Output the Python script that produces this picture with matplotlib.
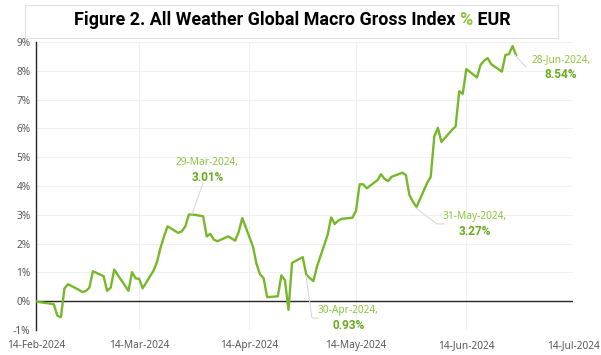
import matplotlib
matplotlib.use('Agg')
import matplotlib.pyplot as plt
import matplotlib.dates as mdates
import matplotlib.patches as mpatches
import pandas as pd

dates = ['2024-02-14', '2024-02-15', '2024-02-16', '2024-02-19', '2024-02-20', '2024-02-21',
         '2024-02-22', '2024-02-23', '2024-02-26', '2024-02-27', '2024-02-28', '2024-02-29',
         '2024-03-01', '2024-03-04', '2024-03-05', '2024-03-06', '2024-03-07', '2024-03-08',
         '2024-03-11', '2024-03-12', '2024-03-13', '2024-03-14', '2024-03-15', '2024-03-18',
         '2024-03-19', '2024-03-20', '2024-03-21', '2024-03-22', '2024-03-25', '2024-03-26',
         '2024-03-27', '2024-03-28', '2024-03-29', '2024-04-01', '2024-04-02', '2024-04-03',
         '2024-04-04', '2024-04-05', '2024-04-08', '2024-04-09', '2024-04-10', '2024-04-11',
         '2024-04-12', '2024-04-15', '2024-04-16', '2024-04-17', '2024-04-18', '2024-04-19',
         '2024-04-22', '2024-04-23', '2024-04-24', '2024-04-25', '2024-04-26', '2024-04-29',
         '2024-04-30', '2024-05-01', '2024-05-02', '2024-05-03', '2024-05-06', '2024-05-07',
         '2024-05-08', '2024-05-09', '2024-05-10', '2024-05-13', '2024-05-14', '2024-05-15',
         '2024-05-16', '2024-05-17', '2024-05-20', '2024-05-21', '2024-05-22', '2024-05-23',
         '2024-05-24', '2024-05-27', '2024-05-28', '2024-05-29', '2024-05-30', '2024-05-31',
         '2024-06-03', '2024-06-04', '2024-06-05', '2024-06-06', '2024-06-07', '2024-06-10',
         '2024-06-11', '2024-06-12', '2024-06-13', '2024-06-14', '2024-06-17', '2024-06-18',
         '2024-06-19', '2024-06-20', '2024-06-21', '2024-06-24', '2024-06-25', '2024-06-26',
         '2024-06-27', '2024-06-28']

values = [0.00, -0.03, -0.05, -0.10, -0.50, -0.56,
          0.44, 0.59, 0.40, 0.32, 0.35, 0.47,
          1.04, 0.87, 0.36, 0.47, 1.10, 0.91,
          0.36, 1.01, 0.79, 0.78, 0.45, 1.05,
          1.35, 1.85, 2.25, 2.60, 2.37, 2.43,
          2.60, 3.01, 3.01, 2.95, 2.25, 2.34,
          2.14, 2.08, 2.25, 2.18, 2.10, 2.40,
          2.89, 1.90, 1.30, 0.93, 0.80, 0.14,
          0.17, 0.90, 0.73, -0.30, 1.33, 1.53,
          0.93, 0.80, 0.70, 1.20, 2.30, 2.91,
          2.68, 2.80, 2.86, 2.90, 3.15, 4.06,
          4.06, 3.92, 4.20, 4.41, 4.25, 4.17,
          4.32, 4.46, 4.38, 3.69, 3.45, 3.27,
          4.11, 4.32, 5.72, 6.02, 5.53, 5.95,
          6.07, 7.29, 7.20, 8.06, 7.77, 8.20,
          8.35, 8.44, 8.23, 7.97, 8.55, 8.58,
          8.86, 8.54]

tick_dates = ['2024-02-14', '2024-03-14', '2024-04-14', '2024-05-14', '2024-06-14', '2024-07-14']
y_ticks = list(range(-1, 10))

# annotated points and their labels
notes = [('2024-03-29', '3.01%'), ('2024-04-30', '0.93%'),
         ('2024-05-31', '3.27%'), ('2024-06-28', '8.54%')]

line_green = '#77b82a'
light_green = '#8dc63f'
dark_green = '#6aaa1e'
grey_txt = '#595959'

x = pd.to_datetime(dates)
xt = pd.to_datetime(tick_dates)

plt.rcParams['font.family'] = ['Noto Sans', 'DejaVu Sans']

fig = plt.figure(figsize=(6.01, 3.55), dpi=100)
ax = fig.add_axes([0.0599, 0.0704, 0.8935, 0.8113])

ax.plot(x, values, color=line_green, linewidth=1.7, zorder=3)
ax.axhline(0, color='#262626', linewidth=1.0, zorder=2)

ax.set_xlim(xt[0], xt[-1])
ax.set_ylim(-1, 9)
ax.set_xticks(xt)
ax.xaxis.set_major_formatter(mdates.DateFormatter('%d-%b-%Y'))
ax.set_yticks(y_ticks)
ax.set_yticklabels([f'{v}%' for v in y_ticks])
ax.tick_params(axis='both', length=0, labelsize=7.3, labelcolor=grey_txt)
ax.tick_params(axis='y', pad=4)
ax.tick_params(axis='x', pad=7)

ax.grid(True, color='#f0f0f0', linewidth=0.8)
ax.set_axisbelow(True)
for s in ['top', 'right', 'bottom']:
    ax.spines[s].set_visible(False)
ax.spines['left'].set_color('#262626')
ax.spines['left'].set_linewidth(1.0)

# label offsets from the point, in pixels (centre of the two-line label)
offsets = [(15, 45), (42, -44), (58, -17), (45, -12)]
for (d, lab), (dx, dy) in zip(notes, offsets):
    xd = mdates.date2num(pd.Timestamp(d))
    v = values[dates.index(d)]
    px, py = ax.transData.transform((xd, v))
    tx, ty = px + dx, py + dy
    ax.text(tx, ty + 7.5, pd.Timestamp(d).strftime('%d-%b-%Y') + ',', transform=None,
            ha='center', va='center', fontsize=7.3, color=light_green)
    ax.text(tx, ty - 7.5, lab, transform=None, ha='center', va='center',
            fontsize=8.5, fontweight='bold', family='Roboto', color=dark_green)

# leader lines (figure pixels, measured from top)
leaders = [[(192, 214), (203, 183)],
           [(306, 276), (312, 318), (318, 318)],
           [(416, 208), (437, 224), (444, 224)],
           [(515, 55), (526, 67)]]
for seg in leaders:
    xs = [p[0] for p in seg]
    ys = [355 - p[1] for p in seg]
    fig.add_artist(plt.Line2D(xs, ys, transform=None, color='#d9d9d9', linewidth=0.8))

# title box
fig.add_artist(mpatches.Rectangle((25 / 601, 1 - 38 / 355), 533 / 601, 33 / 355,
                                  transform=fig.transFigure, facecolor='none',
                                  edgecolor='#e0e0e0', linewidth=0.8))

renderer = fig.canvas.get_renderer()
parts = [('Figure 2. All Weather Global Macro Gross Index ', 'black'),
         ('%', light_green), (' EUR', 'black')]
texts = []
for s, c in parts:
    texts.append(fig.text(0, 0, s, color=c, fontsize=12, fontweight='bold',
                          family='Roboto', ha='left', va='center'))
total = sum(t.get_window_extent(renderer).width for t in texts)
size = 12 * 435 / total
for t in texts:
    t.set_fontsize(size)
widths = [t.get_window_extent(renderer).width for t in texts]
x0 = 292 - sum(widths) / 2
for t, w in zip(texts, widths):
    t.set_transform(None)
    t.set_position((x0, 355 - 20))
    x0 += w

fig.savefig('out.png', dpi=100)
